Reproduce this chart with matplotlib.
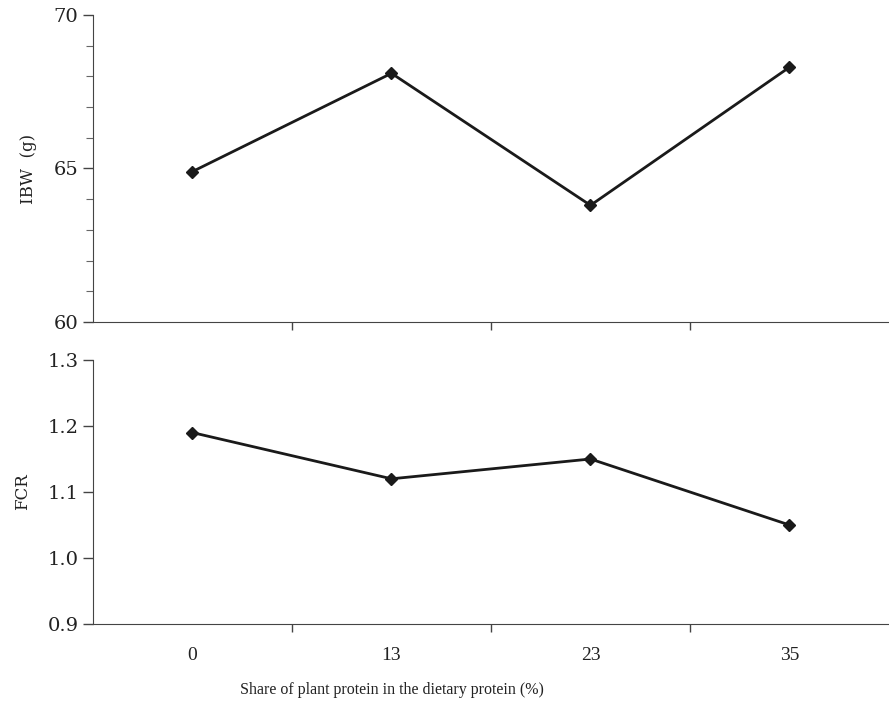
import numpy as np
import matplotlib.pyplot as plt
from matplotlib.ticker import MultipleLocator, FixedLocator, FormatStrFormatter

# données
categories = ["0", "13", "23", "35"]
ibw = [64.9, 68.1, 63.8, 68.3]
fcr = [1.19, 1.12, 1.15, 1.05]
fcr_ticks = [0.9, 1.0, 1.1, 1.2, 1.3]

plt.rcParams['font.family'] = ['DejaVu Serif']

fig = plt.figure(figsize=(8.89, 7.07), dpi=100)
ax1 = fig.add_axes([0.1046, 0.5446, 0.8954, 0.4342])
ax2 = fig.add_axes([0.1046, 0.1174, 0.8954, 0.3734])

x = np.arange(len(categories))

for ax in (ax1, ax2):
    ax.spines['top'].set_visible(False)
    ax.spines['right'].set_visible(False)
    ax.spines['left'].set_color('#444444')
    ax.spines['bottom'].set_color('#444444')
    ax.set_xlim(-0.5, len(categories) - 0.5)
    ax.xaxis.set_major_locator(FixedLocator(x[:-1] + 0.5))
    ax.set_xticklabels([])
    ax.tick_params(axis='x', length=6, width=1, color='#444444', direction='out')
    ax.tick_params(axis='y', length=7, width=1, color='#444444', labelsize=14,
                   labelcolor='#222222')

# panneau du haut : IBW
ax1.plot(x, ibw, color='#1a1a1a', lw=2, marker='D', ms=6)
ax1.set_ylim(60, 70)
ax1.yaxis.set_major_locator(MultipleLocator(5))
ax1.yaxis.set_minor_locator(MultipleLocator(1))
ax1.tick_params(axis='y', which='minor', length=5, width=0.8, color='#666666')
ax1.set_ylabel("IBW  (g)", fontsize=12, labelpad=12, color='#222222')

# panneau du bas : FCR
ax2.plot(x, fcr, color='#1a1a1a', lw=2, marker='D', ms=6)
ax2.set_ylim(0.9, 1.3)
ax2.yaxis.set_major_locator(FixedLocator(fcr_ticks))
ax2.yaxis.set_major_formatter(FormatStrFormatter('%.1f'))
ax2.set_ylabel("FCR", fontsize=12, labelpad=12, color='#222222')

for xi, lab in zip(x, categories):
    ax2.text(xi, -0.12, lab, transform=ax2.get_xaxis_transform(),
             ha='center', va='center', fontsize=14, family='Liberation Serif',
             color='#222222')
fig.text(0.441, 0.024, "Share of plant protein in the dietary protein (%)",
         ha='center', va='center', fontsize=11.5, family='Liberation Serif',
         color='#222222')

plt.savefig("out.png", dpi=100)
